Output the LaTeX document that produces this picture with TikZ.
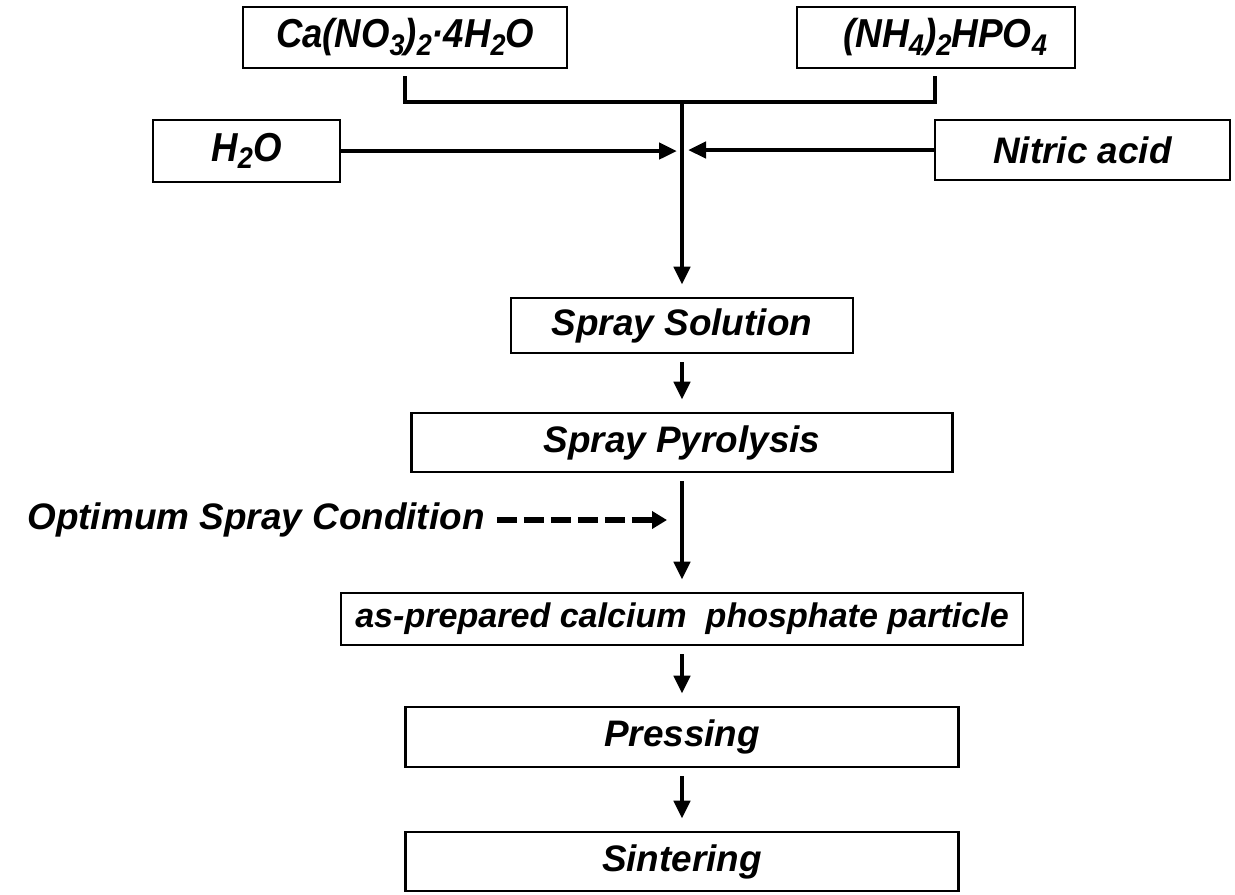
\documentclass[tikz,border=0pt]{standalone}
\usepackage{fontspec}
\setmainfont{Liberation Sans}
\usetikzlibrary{arrows.meta}

% chemical subscript, set low and large as in the scheme
\newcommand{\chemsub}[1]{\raisebox{-0.35ex}{\fontsize{17}{17}\selectfont #1}}

\begin{document}
\begin{tikzpicture}[x=0.02cm, y=-0.02cm,
    box/.style={draw=black, line width=1.5pt, inner sep=0pt, font=\fontsize{21}{25}\selectfont\bfseries\itshape},
    chem/.style={box, font=\fontsize{23}{27}\selectfont\bfseries\itshape},
    flow/.style={draw=black, line width=2.8pt, -{Triangle[length=0.36cm, width=0.32cm]}, shorten <=0.16cm, shorten >=0.24cm}]
    \useasboundingbox (0,0) rectangle (1235,894);

    % reagent nodes
    \node[chem, minimum width=6.48cm, minimum height=1.22cm] (calcium) at (405,37.5) {\resizebox{5.16cm}{\height}{Ca(NO\chemsub{3})\chemsub{2}·4H\chemsub{2}O}};
    \node[chem, minimum width=5.56cm, minimum height=1.22cm] (phosphate) at (936,37.5) {\hspace{0.36cm}\resizebox{4.08cm}{\height}{(NH\chemsub{4})\chemsub{2}HPO\chemsub{4}}};
    \node[chem, minimum width=3.74cm, minimum height=1.24cm] (water) at (246.5,151) {\resizebox{1.40cm}{\height}{H\chemsub{2}O}};
    \node[box, minimum width=5.90cm, minimum height=1.20cm] (acid) at (1082.5,150) {Nitric acid};

    % process nodes
    \node[box, minimum width=6.84cm, minimum height=1.10cm] (solution) at (682,325.5) {Spray Solution};
    \node[box, minimum width=10.82cm, minimum height=1.18cm] (pyrolysis) at (682,442.5) {Spray Pyrolysis};
    \node[box, minimum width=13.64cm, minimum height=1.04cm, font=\fontsize{19.4}{23}\selectfont\bfseries\itshape] (particle) at (682,619) {as-prepared calcium~~phosphate particle};
    \node[box, minimum width=11.06cm, minimum height=1.20cm] (pressing) at (682,737) {Pressing};
    \node[box, minimum width=11.06cm, minimum height=1.18cm] (sintering) at (682,861.5) {Sintering};

    % bracket joining the two reagents
    \coordinate (caleg) at (405,76);
    \coordinate (nhleg) at (935,76);
    \coordinate (join) at (682,102);
    \draw[line width=2.8pt] (caleg) |- (join) -| (nhleg);

    % stem down to the spray solution
    \draw[flow, shorten <=0pt] (join) -- (solution);

    % side feeds
    \coordinate (waterin) at (677,151);
    \coordinate (acidin) at (688,150);
    \draw[flow, shorten <=0pt, shorten >=0pt] (water) -- (waterin);
    \draw[flow, shorten <=0pt, shorten >=0pt] (acid) -- (acidin);

    % process chain
    \foreach \a/\b in {solution/pyrolysis, pyrolysis/particle, particle/pressing, pressing/sintering} {
        \draw[flow] (\a) -- (\b);
    }

    % optimum spray condition
    \node[font=\fontsize{21}{25}\selectfont\bfseries\itshape, inner sep=0pt] (optimum) at (256,520) {Optimum Spray Condition};
    \coordinate (optend) at (667,520);
    \draw[flow, line width=3.2pt, -{Triangle[length=0.3cm, width=0.34cm]}, dash pattern=on 0.4cm off 0.14cm, shorten <=0.24cm, shorten >=0pt] (optimum.east) -- (optend);

\end{tikzpicture}
\end{document}
